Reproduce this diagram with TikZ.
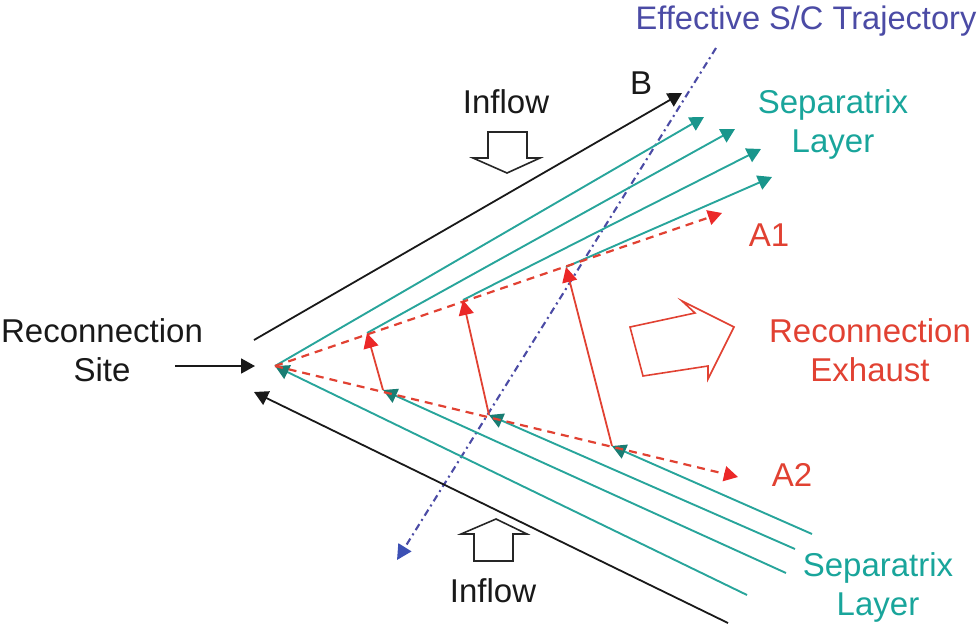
\documentclass[tikz,border=0pt]{standalone}
\usepackage{fontspec}
\setmainfont{Liberation Sans}
\usetikzlibrary{arrows.meta}
\definecolor{tealc}{RGB}{40,165,155}
\definecolor{tealtip}{RGB}{25,150,140}
\definecolor{tealdark}{RGB}{25,125,115}
\definecolor{tealt}{RGB}{25,165,155}
\definecolor{redc}{RGB}{225,65,50}
\definecolor{redtip}{RGB}{235,40,40}
\definecolor{bluec}{RGB}{75,75,165}
\definecolor{bluetip}{RGB}{60,80,180}
\definecolor{blackc}{RGB}{25,25,25}
\tikzset{
 lbl/.style={font=\fontsize{33}{39}\selectfont,align=center,inner sep=0pt},
 blk/.style={draw=blackc,line width=1.8pt,-{Triangle[length=14pt,width=15pt]}},
 tl/.style={draw=tealc,line width=1.9pt,-{Triangle[length=14pt,width=15pt,color=tealtip]}},
 tld/.style={draw=tealc,line width=1.9pt,-{Triangle[length=14pt,width=15pt,color=tealdark]}},
 rd/.style={draw=redc,line width=2.2pt,dash pattern=on 8pt off 6pt,-{Triangle[length=14pt,width=15pt,color=redtip]}},
 rs/.style={draw=redc,line width=1.8pt,-{Triangle[length=15pt,width=15pt,color=redtip]}},
 blockarrow/.style={line width=1.6pt,fill=white,line join=miter},
}
\begin{document}
\begin{tikzpicture}[x=1pt,y=-1pt]
\useasboundingbox (0,0) rectangle (979,625);
\coordinate (site) at (275,366);
\coordinate (t1) at (704,117);
\coordinate (s2) at (367,333);
\coordinate (t2) at (735,129);
\coordinate (s3) at (463,300);
\coordinate (t3) at (761,149);
\coordinate (s4) at (566,267);
\coordinate (t4) at (772,177);
\coordinate (b1) at (383,390);
\coordinate (e1) at (786,573);
\coordinate (b2) at (489,415);
\coordinate (e2) at (795,549);
\coordinate (b3) at (612,446);
\coordinate (e3) at (812,534);
\coordinate (e4) at (747,595);
\coordinate (a1) at (722,213);
\coordinate (a2) at (738,477);
\coordinate (sr) at (175,366);
\coordinate (sre) at (255,366);
\coordinate (kt) at (254,340);
\coordinate (kte) at (682,93);
\coordinate (kb) at (728,623);
\coordinate (kbe) at (254,392);
\coordinate (ts) at (716,48);
\coordinate (te) at (397,560);
% S/C trajectory
\draw[draw=bluec,line width=2.1pt,dash pattern=on 7pt off 4pt on 2pt off 4pt,-{Triangle[length=15pt,width=15pt,color=bluetip]}] (ts) -- (te);
% black
\draw[blk] (kt) -- (kte);
\draw[blk] (kb) -- (kbe);
\draw[blk] (sr) -- (sre);
% teal
\draw[tl] (site) -- (t1);
\draw[tl] (s2) -- (t2);
\draw[tl] (s3) -- (t3);
\draw[tl] (s4) -- (t4);
\draw[tld] (e4) -- (site);
\draw[tld] (e1) -- (b1);
\draw[tld] (e2) -- (b2);
\draw[tld] (e3) -- (b3);
% red
\draw[rd] (site) -- (a1);
\draw[rd] (site) -- (a2);
\draw[rs] (b1) -- (s2);
\draw[rs] (b2) -- (s3);
\draw[rs] (b3) -- (s4);
% block arrows
\draw[blockarrow,draw=redc] (630,327) -- (695,313) -- (682,301) -- (734,327) -- (708,379) -- (708,366) -- (643,376) -- cycle;
\draw[blockarrow,draw=black!85] (488,132) -- (527,132) -- (527,158) -- (540,158) -- (507,173) -- (473,158) -- (488,158) -- cycle;
\draw[blockarrow,draw=black!85] (474,561) -- (474,534) -- (461,534) -- (496,519) -- (527,534) -- (513,534) -- (513,561) -- cycle;
% labels
\node[lbl,text=bluec,font=\fontsize{32.6}{39}\selectfont] (traj) at (806,21) {Effective S/C Trajectory};
\node[lbl,text=blackc] (bl) at (641,83) {B};
\node[lbl,text=blackc] (in1) at (506,102) {Inflow};
\node[lbl,text=blackc] (in2) at (493,591) {Inflow};
\node[lbl,text=tealt] (sl1) at (833,124) {Separatrix\\Layer};
\node[lbl,text=tealt] (sl2) at (878,587) {Separatrix\\Layer};
\node[lbl,text=redc] (ta1) at (769,235) {A1};
\node[lbl,text=redc] (ta2) at (792,475) {A2};
\node[lbl,text=redc] (re) at (870,350) {Reconnection\\Exhaust};
\node[lbl,text=blackc] (rs) at (102,350) {Reconnection\\Site};
\end{tikzpicture}
\end{document}
